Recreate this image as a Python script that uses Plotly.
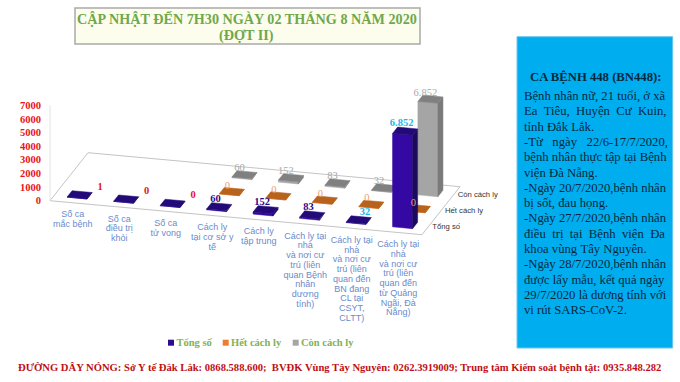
import plotly.graph_objects as go

# ---------- data ----------
categories = [
    ["Số ca", "mắc bệnh"],
    ["Số ca", "điều trị", "khỏi"],
    ["Số ca", "tử vong"],
    ["Cách ly", "tại cơ sở y", "tế"],
    ["Cách ly", "tập trung"],
    ["Cách ly tại", "nhà", "và nơi cư", "trú (liên", "quan Bệnh", "nhân", "dương", "tính)"],
    ["Cách ly tại", "nhà", "và nơi cư", "trú (liên", "quan đến", "BN đang", "CL tại", "CSYT,", "CLTT)"],
    ["Cách ly tại", "nhà", "và nơi cư", "trú (liên", "quan đến", "từ Quảng", "Ngãi, Đà", "Nẵng)"],
]
series_names = ["Tổng số", "Hết cách ly", "Còn cách ly"]
tong_so = [1, 0, 0, 60, 152, 83, 32, 6852]
het_cach_ly = [None, None, None, 0, 0, 0, 0, 0]
con_cach_ly = [None, None, None, 60, 152, 83, 32, 6852]
y_ticks = [0, 1000, 2000, 3000, 4000, 5000, 6000, 7000]

title_lines = ["CẬP NHẬT ĐẾN 7H30 NGÀY 02 THÁNG 8 NĂM 2020", "(ĐỢT II)"]
panel_heading = "CA BỆNH 448 (BN448):"
NB = "\u00a0"
panel_lines = [
    "Bệnh nhân nữ, 21 tuổi, ở xã",
    "Ea  Tiêu,  Huyện  Cư  Kuin,",
    "tỉnh Đắk Lắk.",
    "-Từ   ngày   22/6-17/7/2020,",
    "bệnh nhân thực tập tại Bệnh",
    "viện Đà Nẵng.",
    "-Ngày 20/7/2020,bệnh nhân",
    "bị sốt, đau họng.",
    "-Ngày 27/7/2020,bệnh nhân",
    "điều  trị  tại  Bệnh  viện  Đa",
    "khoa vùng Tây Nguyên.",
    "-Ngày 28/7/2020,bệnh nhân",
    "được lấy mẫu, kết quả ngày",
    "29/7/2020 là dương tính với",
    "vi rút SARS-CoV-2.",
]
footer = ("ĐƯỜNG DÂY NÓNG: Sở Y tế Đắk Lắk: 0868.588.600;  BVĐK Vùng Tây Nguyên: "
          "0262.3919009; Trung tâm Kiểm soát bệnh tật: 0935.848.282")

# ---------- oblique projection of the chart's 3-D frame (pixel geometry) ----------
W, H = 680, 382
X0, Y0 = 50.0, 200.7
DXC, DYC = 46.5, 4.25      # per category
DXD, DYD = 12.67, -16.0    # per series slot
UNIT = 7000 / 95.4         # value units per pixel
BAR_W, BAR_D = 0.43, 0.40
AX_LEFT = 42


def proj(cat, depth, v=0):
    return X0 + DXC * cat + DXD * depth, (Y0 + DYC * cat + DYD * depth) * -UNIT + Y0 * UNIT + v


def px(x, y):
    return x, (Y0 - y) * UNIT


def bar_faces(values, slot):
    front, side, top = ([], []), ([], []), ([], [])
    for i, v in enumerate(values):
        if v is None:
            continue
        c0, c1 = i + .5 - BAR_W / 2, i + .5 + BAR_W / 2
        d0, d1 = slot + .5 - BAR_D / 2, slot + .5 + BAR_D / 2
        faces = [
            (front, [(c0, d0, 0), (c1, d0, 0), (c1, d0, v), (c0, d0, v)]),
            (side, [(c1, d0, 0), (c1, d1, 0), (c1, d1, v), (c1, d0, v)]),
            (top, [(c0, d0, v), (c1, d0, v), (c1, d1, v), (c0, d1, v)]),
        ]
        for store, pts in faces:
            for p in pts + [pts[0]]:
                a, b = proj(*p)
                store[0].append(a)
                store[1].append(b)
            store[0].append(None)
            store[1].append(None)
    return front, side, top


def poly(xy, color, name):
    return go.Scatter(x=xy[0], y=xy[1], mode="lines", fill="toself", fillcolor=color,
                      line=dict(color=color, width=0.5), name=name, showlegend=False,
                      hoverinfo="skip", connectgaps=False)


def text_trace(xs, ys, texts, color, size, family, pos="middle center", bold=False):
    if bold:
        texts = [f"<b>{t}</b>" for t in texts]
    return go.Scatter(x=xs, y=ys, text=texts, mode="text", textposition=pos, showlegend=False,
                      textfont=dict(color=color, size=size, family=family), hoverinfo="skip",
                      cliponaxis=False)


SERIF = "Liberation Serif"
SANS = "Liberation Sans"
fig = go.Figure()

# floor and wall
corner = [proj(0, 0), proj(8, 0), proj(8, 3), proj(0, 3), proj(0, 0)]
fig.add_trace(go.Scatter(x=[c[0] for c in corner], y=[c[1] for c in corner], mode="lines",
                         line=dict(color="#c4c4c4", width=1), showlegend=False, hoverinfo="skip"))
fig.add_trace(go.Scatter(x=[X0, X0], y=[0, 7000], mode="lines", line=dict(color="#e2e2e2", width=1),
                         showlegend=False, hoverinfo="skip"))

# bars, back to front
palette = [
    ("#3409a3", "#220a78", "#1c0a5c"),
    ("#ed7d31", "#b8621b", "#a85a18"),
    ("#a5a5a5", "#808080", "#7a7a7a"),
]
all_series = [tong_so, het_cach_ly, con_cach_ly]
for slot in (2, 1, 0):
    f, s, t = bar_faces(all_series[slot], slot)
    c = palette[slot]
    fig.add_trace(poly(f, c[0], series_names[slot]))
    fig.add_trace(poly(s, c[2], series_names[slot]))
    fig.add_trace(poly(t, c[1], series_names[slot]))


def fmt(v):
    return f"{v:,}".replace(",", ".")


# value labels
def labels(values, slot, dx, dy):
    xs, ys, ts = [], [], []
    for i, v in enumerate(values):
        if v is None:
            continue
        a, b = proj(i + .5, slot + .5, v)
        xs.append(a + dx)
        ys.append(b - dy * UNIT)
        ts.append(fmt(v))
    return xs, ys, ts


xs, ys, ts = labels(tong_so, 0, -3.5, -7.5)
RED, NAVY, CYAN = "#e8141c", "#2a0a8c", "#1fb4ea"
fig.add_trace(text_trace([x + 24 for x in xs[:3]], ys[:3], ts[:3], RED, 10.5, SERIF, bold=True))
fig.add_trace(text_trace(xs[3:6], ys[3:6], ts[3:6], NAVY, 10.5, SERIF, bold=True))
fig.add_trace(text_trace([xs[6] + 10], [ys[6]], [ts[6]], CYAN, 10.5, SERIF, bold=True))
fig.add_trace(text_trace([xs[7]], [ys[7]], [ts[7]], CYAN, 10.5, SERIF, bold=True))
xs, ys, ts = labels(het_cach_ly, 1, -4.5, -5.6)
fig.add_trace(text_trace(xs, ys, ts, "#e9a06c", 10.5, SERIF))
xs, ys, ts = labels(con_cach_ly, 2, -5, -6.3)
fig.add_trace(text_trace(xs, ys, ts, "#a8a8a8", 10.5, SERIF))

# category labels, one line at a time
xs, ys, ts = [], [], []
for i, lines in enumerate(categories):
    a, b = proj(i + .5, 0)
    for k, line in enumerate(lines):
        xs.append(a - 0.5)
        ys.append(b - (12.3 + 9.75 * k) * UNIT)
        ts.append(line)
fig.add_trace(text_trace(xs, ys, ts, "#6b8ccc", 9, SANS))

# depth-axis labels
xs, ys = [], []
for s in range(3):
    a, b = proj(8, s + .5)
    xs.append(a + 4)
    ys.append(b)
fig.add_trace(text_trace(xs, ys, series_names, "#333333", 7.7, SANS, "middle right"))

# legend
swatches = [(171, "#2e0c8c", 176.5), (225.7, "#ed7d31", 231), (295.7, "#a5a5a5", 301)]
for (sx, col, tx), nm in zip(swatches, series_names):
    a, b = px(sx, 342.7)
    fig.add_trace(go.Scatter(x=[a], y=[b], mode="markers", name=nm, showlegend=False, hoverinfo="skip",
                             marker=dict(symbol="square", size=6, color=col), cliponaxis=False))
    a, b = px(tx, 343)
    fig.add_trace(text_trace([a], [b], [nm], "#7fb255", 10.5, SERIF, "middle right", bold=True))

anns = []


def note(x, y, text, color, size, family=SERIF, anchor="center"):
    anns.append(dict(x=x / W, y=1 - y / H, xref="paper", yref="paper", text=text, showarrow=False,
                     xanchor=anchor, yanchor="middle", align=anchor, borderpad=0,
                     font=dict(color=color, size=size, family=family)))


note(246.5, 18.5, f"<b>{title_lines[0]}</b>", "#6fa84b", 14.2)
note(246.5, 36, f"<b>{title_lines[1]}</b>", "#6fa84b", 14.2)
note(595, 76.7, f"<b>{panel_heading}</b>", "#06283f", 12.7)
for k, line in enumerate(panel_lines):
    note(523, 96 + 15.3 * k, line.replace(" ", NB), "#06283f", 12.7, anchor="left")
note(339.5, 367.5, f"<b>{footer}</b>", "#c00f14", 10.6)

shapes = [
    dict(type="rect", xref="paper", yref="paper", x0=75 / W, x1=420 / W, y0=1 - 44 / H, y1=1 - 8 / H,
         fillcolor="#fdfdee", line=dict(color="#a9a9a9", width=1.5), layer="below"),
    dict(type="rect", xref="paper", yref="paper", x0=517 / W, x1=672.7 / W, y0=1 - 348 / H, y1=1 - 36.7 / H,
         fillcolor="#00aeef", line=dict(color="#6cc6ea", width=1), layer="below"),
]

fig.update_layout(
    width=W, height=H, margin=dict(l=0, r=0, t=0, b=0), paper_bgcolor="white", plot_bgcolor="rgba(0,0,0,0)",
    showlegend=False, annotations=anns, shapes=shapes,
    xaxis=dict(domain=[AX_LEFT / W, 1], range=[AX_LEFT, W], visible=False),
    yaxis=dict(domain=[0, 1], range=[(Y0 - H) * UNIT, Y0 * UNIT], tickvals=y_ticks,
               ticktext=[f"<b>{v}</b>" for v in y_ticks], showgrid=False, zeroline=False, showline=False,
               ticks="", ticklen=0, tickfont=dict(color="#e8141c", size=10.5, family=SERIF)),
)
fig.write_html("out.html", config={"displayModeBar": False},
               post_script="document.body.style.margin='0';")
